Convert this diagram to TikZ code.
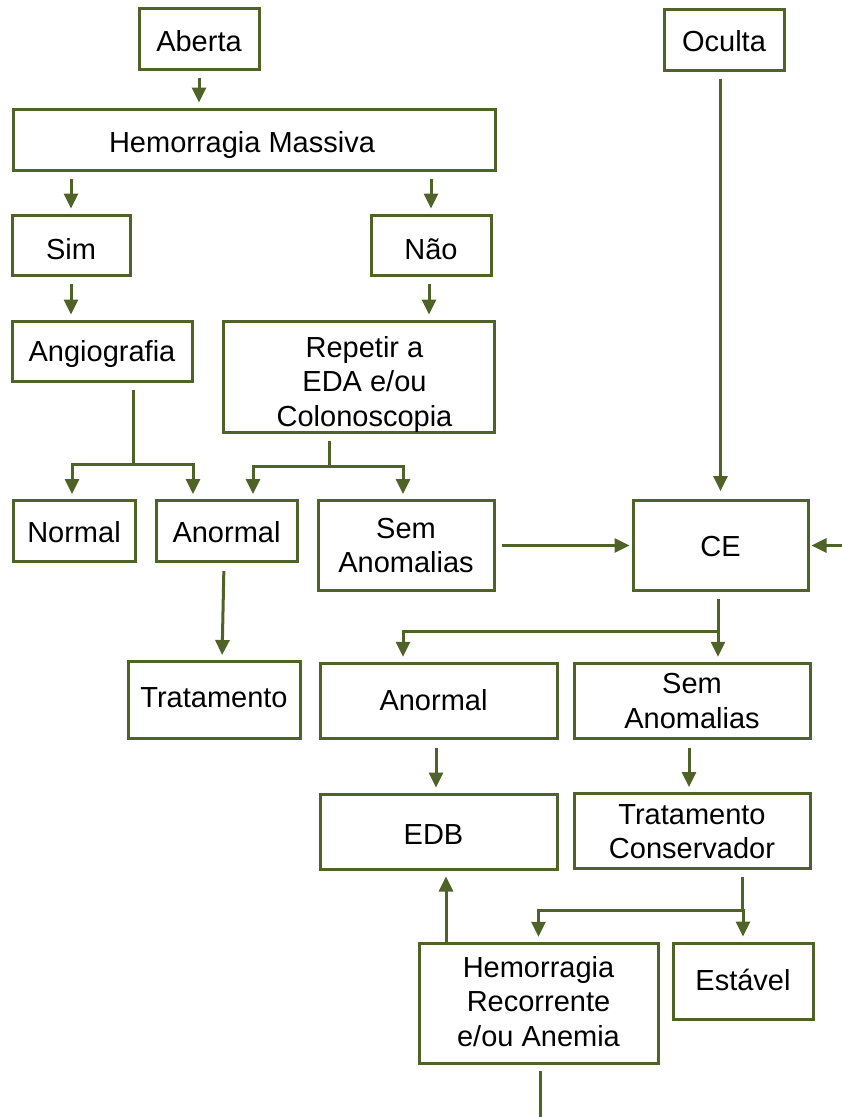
\documentclass[tikz,border=0pt]{standalone}
\usepackage{fontspec}
\setmainfont{Liberation Sans}
\usetikzlibrary{arrows.meta,calc}
\definecolor{olive}{RGB}{79,98,40}
\newcommand{\ml}[1]{\begin{tabular}[t]{@{}c@{}}#1\end{tabular}}
\tikzset{
  box/.style={draw=olive, line width=3pt, fill=white, inner sep=0pt,
    font=\fontsize{29}{34.5}\selectfont},
  bd/.style={text height=#1, text depth=0pt},
  bu/.style={text height=0pt, text depth=#1},
  ln/.style={draw=olive, line width=3pt},
  arr/.style={ln, -{Triangle[length=15pt,width=14pt]}, shorten >=5pt},
}
\begin{document}
\begin{tikzpicture}[x=1pt,y=-1pt]
\useasboundingbox (0,0) rectangle (842,1117);
% nodes
\node[box, bd=25pt, minimum width=120pt, minimum height=61pt] (aberta) at (199,39) {Aberta};
\node[box, bd=26pt, minimum width=482pt, minimum height=61pt] (hm) at (254,139.5) {Hemorragia Massiva\hspace*{24pt}};
\node[box, bd=28pt, minimum width=118pt, minimum height=60pt] (sim) at (71,245) {Sim};
\node[box, bd=28pt, minimum width=120pt, minimum height=60pt] (nao) at (431,245) {Não};
\node[box, bd=20pt, minimum width=180pt, minimum height=60pt] (angio) at (102,351) {Angiografia};
\node[box, bu=39pt, minimum width=271pt, minimum height=111pt] (rep) at (358.5,376.5) {\hspace*{12pt}\ml{Repetir a\\EDA e/ou\\Colonoscopia}};
\node[box, bd=22pt, minimum width=120pt, minimum height=61pt] (oculta) at (724,40) {Oculta};
\node[box, bd=22pt, minimum width=122pt, minimum height=61pt] (normal) at (74,531) {Normal};
\node[box, bd=22pt, minimum width=141pt, minimum height=61pt] (anormala) at (226.5,531) {Anormal};
\node[box, bu=15pt, minimum width=176pt, minimum height=90pt] (semaa) at (406,545.5) {\ml{Sem\\Anomalias}};
\node[box, bd=21pt, minimum width=175pt, minimum height=90pt] (ce) at (720.5,545.5) {CE};
\node[box, bd=15pt, minimum width=172pt, minimum height=77pt] (trat) at (214,700) {Tratamento};
\node[box, bd=20pt, minimum width=237pt, minimum height=75pt] (anormalb) at (438.5,700.8) {Anormal\hspace*{10pt}};
\node[box, bu=14pt, minimum width=236pt, minimum height=75pt] (semab) at (692,700.8) {\ml{Sem\\Anomalias}};
\node[box, bd=25pt, minimum width=237pt, minimum height=75pt] (edb) at (438.5,831.5) {EDB\hspace*{10pt}};
\node[box, bu=14pt, minimum width=236pt, minimum height=75pt] (tc) at (692,831) {\ml{Tratamento\\Conservador}};
\node[box, bu=52pt, minimum width=239pt, minimum height=120pt] (hr) at (538.5,1003.3) {\ml{Hemorragia\\Recorrente\\e/ou Anemia}};
\node[box, bd=18pt, minimum width=140pt, minimum height=76pt] (est) at (743,981) {Estável};
% junctions and free ends
\coordinate (j1) at (133,464);
\coordinate (j2) at (329,466);
\coordinate (j3) at (718,631);
\coordinate (j4) at (742,910);
\coordinate (rin) at (842,545.5);
\coordinate (bot) at (540,1117);
% connectors
\draw[arr, shorten <=7pt] (aberta.south) -- (aberta.south |- hm.north);
\draw[arr, shorten <=7pt] (hm.south -| sim.north) -- (sim.north);
\draw[arr, shorten <=7pt] (hm.south -| nao.north) -- (nao.north);
\draw[arr, shorten <=7pt] (sim.south) -- (sim.south |- angio.north);
\draw[arr, shorten <=7pt] (nao.south -| 429,0) -- (429,0 |- rep.north);
% Angiografia split
\draw[ln, shorten <=7pt] (angio.south -| j1) -- (j1);
\draw[arr] (j1) -| ([xshift=-2pt]normal.north);
\draw[arr] (j1) -| ([xshift=-33.5pt]anormala.north);
% Repetir split
\draw[ln, shorten <=7pt] (rep.south -| j2) -- (j2);
\draw[arr] (j2) -| ([xshift=26.5pt]anormala.north);
\draw[arr] (j2) -| ([xshift=-3pt]semaa.north);
% Anormal -> Tratamento
\draw[arr, shorten <=8pt] ([xshift=-2.5pt]anormala.south) -- ([xshift=8pt]trat.north);
% Sem Anomalias -> CE
\draw[arr, shorten <=6pt, shorten >=2pt] (semaa.east) -- (ce.west);
\draw[arr, shorten >=2pt] (rin) -- (ce.east);
% Oculta -> CE
\draw[arr, shorten <=7pt, shorten >=8pt] (oculta.south -| ce.north) -- (ce.north);
% CE split
\draw[ln, shorten <=7pt] (ce.south -| j3) -- (j3);
\draw[arr] (j3) -| ([xshift=-35.5pt]anormalb.north);
\draw[arr] (j3) -| ([xshift=26pt]semab.north);
% second level
\draw[arr, shorten <=8pt] ([xshift=-2.5pt]anormalb.south) -- ([xshift=-2.5pt]edb.north);
\draw[arr, shorten <=8pt] ([xshift=-3pt]semab.south) -- ([xshift=-3pt]tc.north);
% TC split
\draw[ln, shorten <=7pt] (tc.south -| j4) -- (j4);
\draw[arr] (j4) -| (hr.north);
\draw[arr] (j4) -| (est.north);
% HR -> EDB, HR down
\draw[arr, shorten >=6pt] ([xshift=-92.5pt]hr.north) -- ([xshift=-92.5pt]hr.north |- edb.south);
\draw[ln, shorten <=6pt] (hr.south -| bot) -- (bot);
\end{tikzpicture}
\end{document}
